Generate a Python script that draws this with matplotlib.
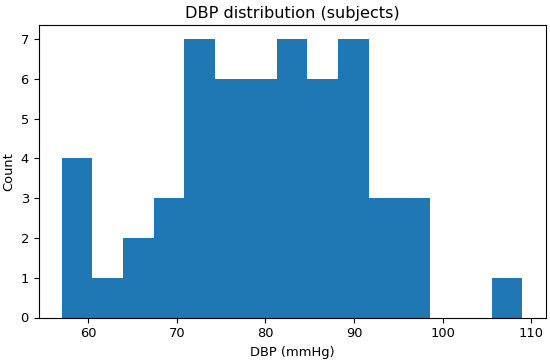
import numpy as np
import matplotlib
matplotlib.use("Agg")
import matplotlib.pyplot as plt

# Histogram of diastolic blood pressure, 15 bins between min and max.
bin_edges = np.linspace(57.0, 109.0, 16)
counts = [4, 1, 2, 3, 7, 6, 6, 7, 6, 7, 3, 3, 0, 0, 1]

centers = (bin_edges[:-1] + bin_edges[1:]) / 2

plt.rcParams["font.size"] = 9.4

fig, ax = plt.subplots(figsize=(5.5, 3.61), dpi=100)
ax.hist(centers, bins=bin_edges, weights=counts, color="#1f77b4")
ax.set_title("DBP distribution (subjects)", fontsize=11.6, pad=5)
ax.set_xlabel("DBP (mmHg)")
ax.set_ylabel("Count")
fig.subplots_adjust(left=38.5 / 550, right=545.5 / 550,
                    top=1 - 25 / 361, bottom=1 - 317.5 / 361)
fig.savefig("out.png")
